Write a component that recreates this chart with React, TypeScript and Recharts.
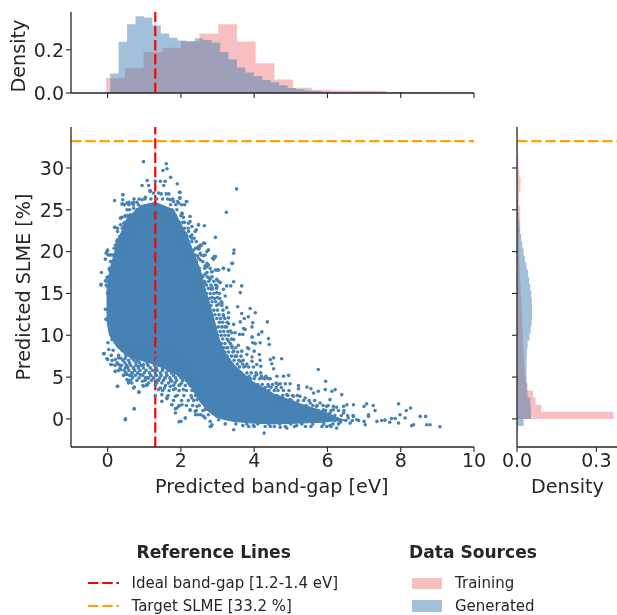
import { Area, ComposedChart, ReferenceLine, Scatter, XAxis, YAxis } from 'recharts';

const FONT = '"DejaVu Sans", sans-serif';
const INK = '#262626';
const TRAINING = 'rgb(240,128,128)';
const GENERATED = 'rgb(70,130,180)';

const bandGapTicks = [0, 2, 4, 6, 8, 10];
const slmeTicks = [0, 5, 10, 15, 20, 25, 30];
const topDensityTicks = [0, 0.2];
const sideDensityTicks = [0, 0.3];
const idealBandGap = 1.3;
const targetSlme = 33.2;

// band-gap histograms (top panel)
const trainingGapEdges = [-0.04, 0.47, 0.98, 1.49, 2, 2.51, 3.02, 3.53, 4.04, 4.55, 5.06, 5.57, 6.08, 6.59, 7.1, 7.61, 8.12, 8.63, 9.14, 9.65, 10];
const trainingGapDensity = [0.07, 0.115, 0.19, 0.21, 0.24, 0.275, 0.318, 0.238, 0.138, 0.062, 0.024, 0.015, 0.012, 0.01, 0.01, 0.004, 0.003, 0.003, 0.002, 0.002];
const generatedGapEdges = [-0.16, 0.07, 0.3, 0.53, 0.76, 0.99, 1.22, 1.45, 1.68, 1.91, 2.14, 2.38, 2.61, 2.84, 3.07, 3.3, 3.53, 3.76, 3.99, 4.22, 4.45, 4.68, 4.91, 5.14, 5.37, 5.6, 5.83, 6.06, 6.29, 6.52, 6.75, 6.98, 7.21, 7.44, 7.67, 7.9, 8.13];
const generatedGapDensity = [0.004, 0.09, 0.237, 0.318, 0.355, 0.349, 0.312, 0.276, 0.256, 0.243, 0.24, 0.254, 0.245, 0.234, 0.19, 0.155, 0.118, 0.095, 0.079, 0.06, 0.05, 0.036, 0.023, 0.017, 0.012, 0.009, 0.006, 0.005, 0.004, 0.003, 0.003, 0.002, 0.002, 0.001, 0.001, 0.001];

// SLME histograms (right panel)
const trainingSlmeEdges = [0, 0.85, 1.7, 2.55, 3.4, 4.25, 5.1, 5.95, 6.8, 7.65, 8.5, 9.35, 10.2, 11.05, 11.9, 12.75, 13.6, 14.45, 15.3, 16.15, 17, 17.85, 18.7, 19.55, 20.4, 21.25, 22.1, 22.95, 23.8, 24.65, 25.5, 26.35, 27.2, 28.05, 28.9, 29.75, 30.6, 31.45, 32.3];
const trainingSlmeDensity = [0.365, 0.092, 0.07, 0.061, 0.04, 0.034, 0.03, 0.028, 0.026, 0.024, 0.023, 0.022, 0.021, 0.02, 0.02, 0.018, 0.017, 0.015, 0.014, 0.012, 0.011, 0.01, 0.009, 0.009, 0.008, 0.008, 0.01, 0.012, 0.012, 0.012, 0.008, 0.008, 0.013, 0.014, 0.009, 0.006, 0.005, 0.003];
const generatedSlmeEdges = [-1.7, -0.85, 0, 0.85, 1.7, 2.55, 3.4, 4.25, 5.1, 5.95, 6.8, 7.65, 8.5, 9.35, 10.2, 11.05, 11.9, 12.75, 13.6, 14.45, 15.3, 16.15, 17, 17.85, 18.7, 19.55, 20.4, 21.25, 22.1, 22.95, 23.8, 24.65, 25.5, 26.35, 27.2];
const generatedSlmeDensity = [0.003, 0.025, 0.053, 0.052, 0.05, 0.04, 0.037, 0.036, 0.036, 0.036, 0.037, 0.038, 0.04, 0.047, 0.052, 0.055, 0.057, 0.057, 0.056, 0.054, 0.05, 0.046, 0.042, 0.036, 0.03, 0.025, 0.02, 0.016, 0.012, 0.009, 0.006, 0.004, 0.002, 0.001];

// solid body of the cloud: band-gap with lower and upper SLME edge
const cloudGap = [-0.03, 0.05, 0.25, 0.53, 0.9, 1.3, 1.8, 2.16, 2.3, 2.53, 2.7, 2.9, 3.05, 3.2, 3.44, 3.94, 4.53, 5.25, 5.89, 6.25, 6.5];
const cloudLow = [12, 10, 8.6, 7.5, 7, 6.5, 5.5, 4.6, 3.6, 2, 1.1, 0.4, 0.1, -0.1, -0.3, -0.5, -0.6, -0.5, -0.4, -0.2, -0.2];
const cloudHigh = [15, 17.5, 21, 24, 25.5, 25.9, 25, 22, 20.4, 17.8, 15, 12, 9.5, 8, 6.5, 4.5, 3, 1.8, 0.9, 0.2, -0.2];

// fringe of the cloud, read row by row: [SLME, band-gaps at that level]
const fringeRows: [number, number[]][] = [
  [26.3, [0.72, 0.86, 1.02, 1.18, 1.34, 1.5, 1.64, 1.78]],
  [25.6, [0.46, 0.58, 0.7, 0.84, 1.72, 1.86, 2.02, 2.1]],
  [25, [0.6, 0.8, 1, 1.15, 1.3, 1.45, 1.6, 1.75]],
  [24.3, [0.55, 0.72, 0.88, 1.05, 1.2, 1.4, 1.55, 1.7, 1.85, 2]],
  [23.5, [0.48, 0.62, 0.75, 0.9, 1.95, 2.1, 2.05]],
  [22.8, [0.4, 0.5, 0.62, 0.75, 1.9, 2, 2.1, 2.2]],
  [22, [0.38, 0.48, 0.6, 1.95, 2.05, 2.15, 2.3]],
  [21.2, [0.25, 0.35, 0.45, 2.05, 2.2, 2.3, 2.42]],
  [20.4, [0.18, 0.3, 0.4, 2.1, 2.25, 2.4, 2.5]],
  [19.6, [0.14, 0.24, 2.2, 2.38, 2.55]],
  [18.8, [0.08, 0.18, 0.3, 2.25, 2.42, 2.6]],
  [18, [0.05, 0.15, 2.3, 2.5, 2.65, 2.8]],
  [17, [0.02, 0.1, 2.35, 2.5, 2.6, 2.72, 2.85]],
  [16, [-0.04, 0.08, 2.45, 2.58, 2.7, 2.82, 2.95]],
  [16.45, [2.64, 2.76, 2.9, 3.02]],
  [15.6, [2.75, 2.86, 2.97]],
  [15, [0, 2.55, 2.7, 2.8, 2.9, 3.05]],
  [14.4, [2.78, 2.92, 3.06]],
  [14, [2.6, 2.72, 2.85, 2.95, 3.1]],
  [13.55, [2.82, 2.98, 3.12]],
  [13, [2.68, 2.78, 2.9, 3, 3.15]],
  [12.45, [2.93, 3.04, 3.16]],
  [12, [2.75, 2.85, 2.98, 3.08, 3.2]],
  [11.55, [3.05, 3.14, 3.26]],
  [11, [2.8, 2.92, 3.02, 3.12, 3.25]],
  [10.45, [3.07, 3.17, 3.28]],
  [10, [2.88, 3, 3.1, 3.2, 3.3]],
  [9.55, [3.14, 3.26, 3.38]],
  [9, [3, 3.1, 3.2, 3.35]],
  [8.5, [3.16, 3.28, 3.4, 3.5]],
  [8, [3.1, 3.2, 3.3, 3.42, 3.55]],
  [7.5, [3.26, 3.38, 3.52, 3.64]],
  [7, [3.2, 3.32, 3.45, 3.58, 3.7]],
  [6.55, [3.4, 3.54, 3.68, 3.8]],
  [6.2, [3.45, 3.6, 3.72, 3.85, 3.98]],
  [5.5, [3.5, 3.65, 3.8, 3.92, 4.05, 4.18]],
  [5.1, [3.7, 3.86, 4.02, 4.2, 4.32]],
  [4.8, [3.75, 3.9, 4, 4.15, 4.28, 4.4]],
  [4.1, [3.95, 4.1, 4.22, 4.38, 4.5, 4.65]],
  [3.75, [4.15, 4.3, 4.46, 4.6, 4.74]],
  [3.4, [4.1, 4.25, 4.4, 4.55, 4.65, 4.8, 4.95]],
  [2.8, [4.5, 4.62, 4.78, 4.92, 5.05, 5.18]],
  [2.2, [4.55, 4.7, 4.88, 5.02, 5.2, 5.35, 5.5, 5.65]],
  [1.6, [5.1, 5.28, 5.42, 5.6, 5.72, 5.88, 6.02]],
  [1, [5.4, 5.6, 5.75, 5.95, 6.1, 6.3, 6.45]],
  [0.4, [5.9, 6.05, 6.2, 6.38, 6.55, 6.7]],
  [-0.2, [6.2, 6.35, 6.5, 6.68, 6.85]],
  [-0.6, [3.5, 3.8, 4.1, 4.4, 4.7, 5, 5.3, 5.6, 5.9, 6.15, 6.3]],
  [-0.9, [3.85, 4, 4.3, 4.55, 4.85, 5.1, 5.4, 5.55, 5.85, 6.1]],
  [8.2, [0.15, 0.4, 0.55, 0.7, 0.85, 1.05, 1.2, 1.35, 1.55, 1.7, 1.85]],
  [7.6, [0.1, 0.3, 0.5, 0.62, 0.75, 0.95, 1.1, 1.3, 1.45, 1.62, 1.78, 1.95]],
  [7.25, [0.36, 0.48, 0.66, 0.8, 0.9, 1.06, 1.24, 1.4, 1.58, 1.74, 1.92, 2.08]],
  [7, [0.12, 0.42, 0.57, 0.72, 0.82, 1.02, 1.18, 1.34, 1.52, 1.68, 1.88, 2.02]],
  [6.7, [0.26, 0.47, 0.6, 0.77, 0.87, 1.08, 1.26, 1.44, 1.62, 1.82, 1.98, 2.14]],
  [6.4, [0.2, 0.38, 0.52, 0.63, 0.78, 0.92, 1.1, 1.28, 1.42, 1.58, 1.74, 1.92, 2.08]],
  [6.1, [0.34, 0.55, 0.7, 0.84, 0.98, 1.16, 1.33, 1.5, 1.66, 1.8, 2, 2.16]],
  [5.8, [0.3, 0.45, 0.58, 0.74, 0.88, 1.05, 1.22, 1.35, 1.5, 1.66, 1.82, 2, 2.12]],
  [5.5, [0.5, 0.68, 0.82, 1, 1.14, 1.3, 1.44, 1.6, 1.74, 1.9, 2.06, 2.22]],
  [5.2, [0.43, 0.6, 0.76, 0.95, 1.18, 1.33, 1.46, 1.62, 1.8, 1.95, 2.1, 2.2]],
  [4.9, [0.68, 0.86, 1.08, 1.26, 1.42, 1.56, 1.7, 1.86, 2, 2.18, 2.3]],
  [4.6, [0.62, 0.8, 1.02, 1.2, 1.35, 1.52, 1.72, 1.88, 2.05, 2.15, 2.3]],
  [4.3, [1.12, 1.34, 1.48, 1.66, 1.84, 2.02, 2.2, 2.36]],
  [4, [1.3, 1.58, 1.8, 1.95, 2.12, 2.25, 2.38]],
  [3.4, [1.5, 1.68, 1.95, 2.15, 2.3, 2.42]],
  [2.8, [1.65, 1.9, 2.08, 2.28, 2.4]],
  [2.2, [1.8, 2.02, 2.2, 2.35]],
  [1.6, [1.95, 2.15, 2.32, 2.5]],
  [1, [2.25, 2.42, 2.6]],
  [0.5, [2.4, 2.55, 2.75]],
];

// loose points around the body: [band-gap, SLME]
const loosePoints = [
  [0.98, 30.76], [1.6, 30.5], [1.51, 29.7], [1.62, 29.9], [1.72, 28.9], [1.08, 28.5], [0.94, 27.9], [1.3, 28.4], [1.57, 28.4], [1.44, 28.4],
  [1.9, 28.1], [3.52, 27.5], [1.12, 27.9], [1.16, 27.3], [1.53, 27.9], [1.96, 27.1], [1.6, 26.9], [1.67, 26.9], [0.41, 26.8], [0.19, 26.1],
  [0.41, 26.2], [0.39, 25.7], [1.98, 26.4], [2.15, 26], [1.91, 26], [0.57, 25.9], [0.71, 25.9], [3.24, 24.7], [2.25, 24.2], [2.03, 24.5],
  [0.35, 24], [0.48, 24.3], [2.21, 23.4], [2.48, 23.2], [2.64, 23.1], [2.3, 23], [0.19, 22.9], [0.27, 22.8], [0.44, 23], [2.94, 21.7],
  [2.39, 22.4], [2.3, 21.6], [2.62, 21], [2.53, 20.8], [0.27, 21.4], [0.35, 21.6], [0, 20.2], [-0.04, 19.8], [0.05, 19.6], [-0.06, 19.1],
  [2.71, 20], [2.62, 19.5], [2.48, 20.3], [3.45, 20.2], [3.44, 19.8], [3.41, 18.6], [3.16, 18], [2.94, 19.4], [2.89, 19.1], [2.71, 18.2],
  [3.3, 17.8], [3, 17.8], [2.85, 17.6], [-0.17, 17.5], [-0.18, 16], [-0.02, 16.5], [3.66, 15.9], [3.44, 16.4], [3.36, 15.9], [3.07, 16.3],
  [2.98, 16.7], [3.25, 15.9], [2.98, 15.7], [3.62, 15.1], [3.55, 13.4], [3.89, 13.2], [4.03, 12.7], [3.66, 12.6], [3.73, 12], [3.62, 11.6],
  [3.96, 11.5], [4.36, 11.6], [3.94, 11], [3.3, 12.1], [3.44, 11.3], [3.39, 10.3], [3.75, 10.7], [4.21, 10.4], [4.12, 10.1], [3.94, 9.8],
  [3.69, 10.1], [4.39, 9.6], [4.41, 8.9], [4.16, 9.1], [3.96, 9.1], [3.85, 8.4], [4, 8.1], [4.14, 7.7], [4.16, 7], [4.53, 7.3],
  [4.44, 7.1], [4.75, 7.2], [4.48, 6.6], [4.53, 6], [3.94, 6.9], [4.07, 6.5], [5.75, 5.9], [4.07, 5.3], [4.62, 5.1], [4.8, 5.1],
  [4.94, 5.2], [5.95, 4.5], [4.44, 4.8], [4.71, 4.2], [4.85, 4.2], [4.98, 4.2], [5.21, 4], [5.44, 3.8], [5.55, 3.6], [5.21, 3.6],
  [5.94, 3.5], [6.21, 3.5], [6.12, 3.3], [6.39, 2.9], [5.75, 3.3], [5.62, 3.1], [5.07, 2.7], [5.25, 2.7], [5.8, 1.9], [6.44, 1.5],
  [6.71, 1.7], [6.53, 1.7], [6.16, 1.5], [5.98, 1.5], [7.07, 1.8], [7, 1.5], [7.94, 1.8], [7.25, 1.6], [8.27, 1.3], [8.15, 1],
  [7.3, 1], [7.12, 0.5], [7.98, 0.5], [8.53, 0.3], [8.68, 0.3], [8.12, 0.1], [7.85, 0.05], [7.75, 0.05], [7.57, -0.15], [7.7, -0.4],
  [7.94, -0.5], [8.3, -0.8], [8.35, -0.7], [8.71, -0.7], [8.8, -0.7], [9.07, -0.95], [7.35, -0.3], [7.48, -0.2], [7, -0.3], [7.03, -0.7],
  [7.12, 0.3], [6.8, -0.1], [6.71, 0.3], [6.57, 0.1], [6.44, 0.7], [6.62, -0.5], [6.35, -0.3], [6.25, -1.1], [5.98, -0.9], [4.27, -1.7],
  [3.44, -1.3], [2.85, -0.7], [2.8, -0.9], [1.95, -0.35], [2.12, 0.1], [0.48, -0.1], [0.73, 1.2], [1.85, 0.7], [1.75, 1.7], [1.89, 1.3],
  [2.03, 1.7], [1.48, 2.1], [1.62, 2.4], [1.3, 2.7], [1.85, 2.7], [0.85, 3.2], [0.27, 3.9], [0.73, 3.8], [0.57, 4.3], [0.98, 3.9],
  [1.07, 4.1], [1.44, 3.7], [1.8, 3.5], [2.3, 2.5], [2.44, 1.5], [2.62, 0.3], [0.21, 5.7], [0.35, 5.9], [0.48, 5.3], [0.53, 4.7],
  [0.66, 5.1], [0.89, 5.3], [1.03, 4.9], [-0.11, 7.8], [-0.02, 7.2], [0.1, 6.5], [0.03, 8.3], [-0.04, 11.9], [-0.06, 13.1],
  [0.53, 25.8], [0.66, 25.8], [0.8, 25.9], [0.94, 26.2], [1.03, 26.5], [1.16, 27.2], [1.25, 27], [1.39, 27], [1.46, 26.9], [1.71, 26.2],
  [1.8, 26], [1.94, 25.8], [1.98, 27.1], [1.96, 26.4], [2.16, 26], [0.42, 26.8], [0.41, 25.7], [0.71, 25.2], [0.53, 25], [0.39, 24.1],
  [0.48, 24.2], [0.62, 24.4], [1.89, 25], [2.03, 24.6], [2.07, 24.1], [2.25, 23.6], [2.48, 23.2], [2.42, 22.6], [2.21, 22.4], [2.25, 21.8],
  [2.12, 22.2], [1.98, 22], [2.03, 21.4], [2.16, 21], [2.36, 21.6], [2.65, 21], [2.55, 20.7], [2.75, 20.2], [2.45, 19.5], [2.53, 19],
  [2.91, 19.4], [2.35, 20.2], [0.21, 22.9], [0.35, 23.2], [0.44, 23.4], [0.27, 22.4], [0.33, 21.8], [0.44, 22.2], [0.21, 20.8], [0.27, 20.2],
  [0.33, 19.6], [-0.02, 20], [0.01, 19.6], [0.09, 19.6], [0.12, 18.3], [0.05, 17.8], [0.16, 17.6], [-0.02, 16.9], [-0.18, 16.1], [-0.06, 16.5],
  [-0.02, 15.9], [0.07, 16.1], [0.03, 15.1], [0.03, 14.3], [0.07, 14.7], [0.07, 13.7], [2.35, 18.6], [2.44, 18.2], [2.66, 18.3], [2.75, 18.4],
  [2.94, 17.8], [3.03, 17.8], [2.71, 17.5], [2.8, 16.7], [2.57, 17.1], [2.66, 16.3], [2.98, 15.9], [2.85, 15.7], [2.48, 16.3], [2.53, 15.7],
  [2.44, 14.9], [2.62, 15.1], [2.66, 14.3], [2.85, 14.5], [2.98, 15.1], [3.03, 13.7], [2.53, 13.9], [2.71, 13.3],
  [-0.04, 11.9], [0.07, 12.7], [0.01, 9.1], [0.12, 9.5], [0.21, 9.7], [-0.09, 7.8], [0, 7.1], [0.09, 6.5], [0.21, 7.1], [0.3, 7.3],
  [0.3, 6.5], [0.21, 5.7], [0.35, 5.9], [0.48, 6.1], [0.53, 5.3], [0.66, 5.5], [0.71, 6.1], [0.85, 6.3], [0.98, 6.5], [0.57, 4.5],
  [0.66, 4.3], [0.27, 3.9], [0.71, 3.7], [0.86, 3.2], [0.95, 4.5], [0.96, 4], [1.07, 4], [1.12, 4.9], [1.25, 4.9], [1.39, 4.6],
  [1.39, 3.5], [1.48, 2.9], [1.62, 2.6], [1.55, 3.7], [1.71, 3.9], [1.57, 4.9], [1.75, 4.5], [1.85, 3.6], [1.98, 4.1], [2.07, 3.5],
  [1.75, 1.7], [1.85, 1.2], [1.94, 1.5], [2, -0.3], [2.12, 0.1], [2.25, 1.1], [2.39, 0.9], [2.66, 0.1], [2.8, -0.3], [2.82, -0.9],
  [0.72, 1.2], [0.49, 0], [2.48, 3.1], [2.44, 2.3], [2.75, 1.3], [2.66, 1.1], [2.98, 0.3],
  [2.62, 21], [2.48, 20.6], [2.75, 20.2], [2.66, 19.6], [2.53, 19.8], [2.94, 19.4], [2.87, 19.2], [2.48, 19.2], [2.71, 18.6], [3.39, 18.6],
  [3.16, 18], [3.31, 17.8], [3, 17.8], [2.84, 17.6], [2.66, 17.3], [2.75, 16.9], [3.07, 16.3], [3.16, 15.5], [2.84, 15.5], [3.21, 14.7],
  [3, 14.5], [3.12, 13.9], [3.25, 13.3], [3.3, 12.7], [3.16, 12.3], [3.84, 12.2], [3.3, 11.4], [3.2, 11], [3.71, 10.8], [3.35, 10.5],
  [3.48, 10.3], [3.95, 9.8], [3.6, 10.1], [4.03, 9], [3.44, 9.5], [3.3, 9.3], [3.39, 8.7], [3.57, 8.8], [3.82, 8.5], [3.25, 8.5],
  [3.44, 8.1], [3.66, 8.1], [3.48, 7.5], [3.8, 7.7], [3.94, 7.4], [4.18, 6.3], [3.75, 6.3], [3.62, 6.9], [4.21, 4.9], [4.34, 4.9],
  [4.6, 4.3], [4.39, 3.9], [4.89, 2.9], [5.39, 2.5], [6.07, 2.3], [5.53, 1.9], [5.7, 1.5], [5.89, 1.1], [6.16, 1.1], [6.25, 1.4],
  [4.98, 2.3], [4.8, 2.1], [5.16, 1.9], [5.35, 1.5], [5.48, 1.1], [6.35, -0.4], [6.16, 0.1], [6.07, 0.7], [6.25, -0.1], [6.07, -0.8],
  [5.16, -0.8], [4.89, -1.1], [4.71, -1], [4.44, -0.9], [3.98, -0.8], [3.69, -0.8], [3.21, -0.6], [3.03, -0.1], [2.48, 0.5],
];

const histTable = (edges: number[], density: number[], key: string) =>
  edges.map((edge, i) => ({ [key]: edge, density: density[i] ?? 0 }));

const cloudData = cloudGap.map((x, i) => ({ x, band: [cloudLow[i], cloudHigh[i]] }));
const pointData = [
  ...loosePoints.map(([x, y]) => ({ x, y })),
  ...fringeRows.flatMap(([y, gaps]) => gaps.map((x) => ({ x, y }))),
];

const tickStyle = { fontSize: 19, fontFamily: FONT, fill: INK };
const axisLine = { stroke: INK, strokeWidth: 1.3 };
const tickLine = { stroke: INK, strokeWidth: 1.1 };
const blank = () => '';
const dashes = '10.5 3.7';

function Dot(props: any) {
  return <circle cx={props.cx} cy={props.cy} r={1.8} fill={GENERATED} />;
}

function TopHistogram() {
  return (
    <ComposedChart width={490} height={110} margin={{ top: 12, right: 16, bottom: 0, left: 0 }}>
      <XAxis type="number" dataKey="x" domain={[-1, 10]} ticks={bandGapTicks} tickFormatter={blank} height={17} axisLine={axisLine} tickLine={tickLine} tickSize={5} />
      <YAxis type="number" width={71} domain={[0, 0.375]} ticks={topDensityTicks} tickFormatter={(v) => v.toFixed(1)} tick={tickStyle} axisLine={axisLine} tickLine={tickLine} tickSize={5} />
      <Area data={histTable(trainingGapEdges, trainingGapDensity, 'x')} dataKey="density" type="stepAfter" fill={TRAINING} fillOpacity={0.5} stroke="none" isAnimationActive={false} />
      <Area data={histTable(generatedGapEdges, generatedGapDensity, 'x')} dataKey="density" type="stepAfter" fill={GENERATED} fillOpacity={0.5} stroke="none" isAnimationActive={false} />
      <ReferenceLine x={idealBandGap} stroke="#ff0000" strokeWidth={2.2} strokeDasharray={dashes} />
    </ComposedChart>
  );
}

function MainScatter() {
  return (
    <ComposedChart width={490} height={360} margin={{ top: 12, right: 16, bottom: 0, left: 0 }}>
      <XAxis type="number" dataKey="x" domain={[-1, 10]} ticks={bandGapTicks} interval={0} tick={tickStyle} height={28} axisLine={axisLine} tickLine={tickLine} tickSize={5} />
      <YAxis type="number" dataKey="y" width={71} domain={[-3.36, 34.9]} ticks={slmeTicks} interval={0} tick={tickStyle} axisLine={axisLine} tickLine={tickLine} tickSize={5} />
      <Area data={cloudData} dataKey="band" type="linear" fill={GENERATED} fillOpacity={1} stroke={GENERATED} strokeWidth={1} isAnimationActive={false} />
      <Scatter data={pointData} shape={Dot} isAnimationActive={false} />
      <ReferenceLine x={idealBandGap} stroke="#ff0000" strokeWidth={2.2} strokeDasharray={dashes} />
      <ReferenceLine y={targetSlme} stroke="#ffa500" strokeWidth={2.2} strokeDasharray={dashes} />
    </ComposedChart>
  );
}

function SideHistogram() {
  return (
    <ComposedChart layout="vertical" width={117} height={360} margin={{ top: 12, right: 0, bottom: 0, left: 0 }}>
      <XAxis type="number" domain={[0, 0.378]} ticks={sideDensityTicks} interval={0} tickFormatter={(v) => v.toFixed(1)} tick={tickStyle} height={28} axisLine={axisLine} tickLine={tickLine} tickSize={5} />
      <YAxis type="number" dataKey="y" reversed width={17} domain={[-3.36, 34.9]} ticks={slmeTicks} interval={0} tickFormatter={blank} axisLine={axisLine} tickLine={tickLine} tickSize={5} />
      <Area data={histTable(trainingSlmeEdges, trainingSlmeDensity, 'y')} dataKey="density" type="stepBefore" fill={TRAINING} fillOpacity={0.5} stroke="none" isAnimationActive={false} />
      <Area data={histTable(generatedSlmeEdges, generatedSlmeDensity, 'y')} dataKey="density" type="stepBefore" fill={GENERATED} fillOpacity={0.5} stroke="none" isAnimationActive={false} />
      <ReferenceLine y={targetSlme} stroke="#ffa500" strokeWidth={2.2} strokeDasharray={dashes} />
    </ComposedChart>
  );
}

function Text(props: { x: number; y: number; size?: number; bold?: boolean; rotate?: boolean; children: string }) {
  const { x, y, size = 19.2, bold, rotate, children } = props;
  return (
    <div
      style={{
        position: 'absolute',
        left: x,
        top: y,
        fontSize: size,
        fontWeight: bold ? 700 : 400,
        fontFamily: FONT,
        color: INK,
        lineHeight: 1,
        whiteSpace: 'nowrap',
        transform: rotate ? 'translate(-50%,-50%) rotate(-90deg)' : 'translateY(-50%)',
      }}
    >
      {children}
    </div>
  );
}

function Swatch(props: { x: number; y: number; color: string }) {
  return <div style={{ position: 'absolute', left: props.x, top: props.y, width: 30, height: 11.5, background: props.color, opacity: 0.5 }} />;
}

function DashKey(props: { y: number; color: string }) {
  return (
    <svg style={{ position: 'absolute', left: 87, top: props.y - 3 }} width={33} height={6}>
      <line x1={1} y1={3} x2={32} y2={3} stroke={props.color} strokeWidth={2.2} strokeDasharray={dashes} />
    </svg>
  );
}

export default function App() {
  return (
    <div style={{ position: 'absolute', left: 0, top: 0, width: 617, height: 615, background: '#fff', overflow: 'hidden', filter: 'blur(0.4px)' }}>
      <div style={{ position: 'absolute', left: 0, top: 0 }}><TopHistogram /></div>
      <div style={{ position: 'absolute', left: 0, top: 115 }}><MainScatter /></div>
      <div style={{ position: 'absolute', left: 500, top: 115 }}><SideHistogram /></div>

      <Text x={19} y={56} rotate>Density</Text>
      <Text x={24} y={287} rotate>Predicted SLME [%]</Text>
      <Text x={155} y={487}>Predicted band-gap [eV]</Text>
      <Text x={531} y={487}>Density</Text>

      <Text x={136.5} y={553} size={17.1} bold>Reference Lines</Text>
      <DashKey y={583} color="#ff0000" />
      <DashKey y={606} color="#ffa500" />
      <Text x={131.5} y={583} size={15}>Ideal band-gap [1.2-1.4 eV]</Text>
      <Text x={131.5} y={606} size={15}>Target SLME [33.2 %]</Text>

      <Text x={409} y={553} size={17.1} bold>Data Sources</Text>
      <Swatch x={412} y={577.5} color={TRAINING} />
      <Swatch x={412} y={600} color={GENERATED} />
      <Text x={455} y={583} size={15}>Training</Text>
      <Text x={455} y={606} size={15}>Generated</Text>
    </div>
  );
}
